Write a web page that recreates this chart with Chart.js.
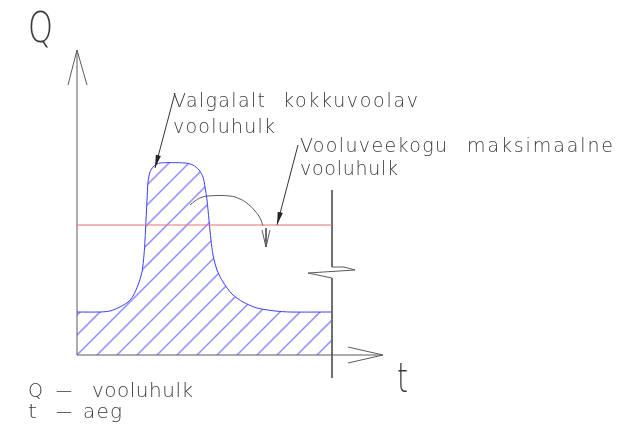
<!DOCTYPE html>
<html><head><meta charset="utf-8">
<script src="https://cdn.jsdelivr.net/npm/chart.js@4/dist/chart.umd.min.js"></script>
<style>html,body{margin:0;padding:0;background:#fff;}canvas{display:block;}</style>
</head><body>
<canvas id="c" width="631" height="431"></canvas>
<script>
// Hydrograph (schematic): time t, discharge Q
const tCurve = [0,23,33,43,51,56,61,65,67,68,69,70,71,73,77,83,108,116,122,126,128,130,132,134,136,140,146,155,166,180,198,213,254];
const qCurve = [43,43,44,48,53,59,70,83,100,115,135,155,173,183,189,192,192,190,185,178,168,155,135,115,100,85,73,61,53,47,44,43,43];
const qMax = 130;            // Vooluveekogu maksimaalne vooluhulk
const tEnd = 255;            // end of period (break line)
const breakT = [255,255,267,278,231,255,255];
const breakQ = [165,88,88,85,82,77,-23];
const yAxisT = [0,0], yAxisQ = [0,305];
const yHeadT = [-9,0,10], yHeadQ = [270,305,270];
const xAxisT = [0,306], xAxisQ = [0,0];
const xHeadT = [271,306,271], xHeadQ = [8,0,-8];
const arcT = [113,118,123,131,153,163,171,178,183,186];
const arcQ = [150,154,157,159,159,156,151,144,137,129];
const arcHeadT = [185,189,193], arcHeadQ = [125,108,125];
const arcMidT = [189,189], arcMidQ = [127,108];
const leader1T = [98,78], leader1Q = [262,187];
const leader2T = [221,200], leader2Q = [210,130];
// labels: text, t, Q (baseline-left), target width px, font size
const labelText = ["Q","Valgalalt","kokkuvoolav","vooluhulk","Vooluveekogu","maksimaalne","vooluhulk","t","Q","–","vooluhulk","t","–","aeg"];
const labelT =    [-49, 96, 206, 96, 223, 390, 223, 320, -49, -22, 15, -49, -22, 6];
const labelQ =    [313, 248, 248, 222, 203, 203, 180, -37, -42, -42, -42, -63, -63, -63];
const labelW =    [25, 92, 135, 102, 147, 146, 98, 11, 15, 18, 101, 9, 18, 39];
const labelSize = [42, 19, 19, 19, 19, 19, 19, 40, 20, 20, 20, 20, 20, 20];

const pts = (ts, qs) => ts.map((t, i) => ({x: t, y: qs[i]}));

const GRAY = '#5a5a5a';
const HATCH = 'rgba(70,70,255,0.55)';
const HATCH_STEP = 20;
const line = (data, color, extra) => Object.assign({
  data, borderColor: color, borderWidth: 1, showLine: true, pointRadius: 0, fill: false, tension: 0
}, extra || {});

const hatchPlugin = {
  id: 'hatch',
  beforeDatasetsDraw(chart) {
    const ctx = chart.ctx, ys = chart.scales.y;
    const meta = chart.getDatasetMeta(1);
    const el = meta.dataset, pp = meta.data;
    const y0 = ys.getPixelForValue(0);
    ctx.save();
    ctx.beginPath();
    el.path(ctx);
    ctx.lineTo(pp[pp.length - 1].x, y0);
    ctx.lineTo(pp[0].x, y0);
    ctx.closePath();
    ctx.clip();
    ctx.globalCompositeOperation = 'source-over';
    ctx.strokeStyle = HATCH;
    ctx.lineWidth = 1.6;
    ctx.beginPath();
    const W = chart.width, H = chart.height;
    for (let c = 12 - HATCH_STEP * 30; c < W + H; c += HATCH_STEP) {
      ctx.moveTo(c - H, H);
      ctx.lineTo(c, 0);
    }
    ctx.stroke();
    ctx.restore();
  }
};

const decor = {
  id: 'decor',
  afterDatasetsDraw(chart) {
    const ctx = chart.ctx, xs = chart.scales.x, ys = chart.scales.y;
    const P = (t, q) => [xs.getPixelForValue(t), ys.getPixelForValue(q)];
    [[leader1T, leader1Q], [leader2T, leader2Q]].forEach(([lt, lq]) => {
      const [x0, y0] = P(lt[0], lq[0]), [x1, y1] = P(lt[1], lq[1]);
      const dx = x0 - x1, dy = y0 - y1, L = Math.hypot(dx, dy);
      const ux = dx / L, uy = dy / L, len = 13, w = 2.6;
      ctx.save();
      ctx.fillStyle = '#222';
      ctx.beginPath();
      ctx.moveTo(x1, y1);
      ctx.lineTo(x1 + ux * len - uy * w, y1 + uy * len + ux * w);
      ctx.lineTo(x1 + ux * len + uy * w, y1 + uy * len - ux * w);
      ctx.closePath(); ctx.fill();
      ctx.restore();
    });
    ctx.save();
    ctx.fillStyle = '#3a3a3a';
    ctx.textBaseline = 'alphabetic';
    ctx.textAlign = 'left';
    labelText.forEach((s, i) => {
      ctx.font = `200 ${labelSize[i]}px "DejaVu Sans ExtraLight", "DejaVu Sans", sans-serif`;
      ctx.letterSpacing = '0px';
      const m = ctx.measureText(s).width;
      const n = [...s].length;
      const ls = n > 1 ? (labelW[i] - m) / (n - 1) : 0;
      ctx.letterSpacing = ls.toFixed(2) + 'px';
      const [x, y] = P(labelT[i], labelQ[i]);
      if (n === 1) {
        ctx.save(); ctx.translate(x, y); ctx.scale(labelW[i] / m, 1); ctx.fillText(s, 0, 0); ctx.restore();
      } else {
        ctx.fillText(s, x, y);
      }
    });
    ctx.restore();
  }
};

new Chart(document.getElementById('c'), {
  type: 'scatter',
  data: {
    datasets: [
      line(pts([0, tEnd], [qMax, qMax]), 'rgb(235,110,110)'),
      line(pts(tCurve, qCurve), 'rgb(60,60,255)', {tension: 0.25}),
      line(pts(yAxisT, yAxisQ), GRAY),
      line(pts(yHeadT, yHeadQ), GRAY),
      line(pts(xAxisT, xAxisQ), GRAY),
      line(pts(xHeadT, xHeadQ), GRAY),
      line(pts(breakT, breakQ), GRAY),
      line(pts(arcT, arcQ), GRAY, {tension: 0.4}),
      line(pts(arcHeadT, arcHeadQ), GRAY),
      line(pts(arcMidT, arcMidQ), GRAY),
      line(pts(leader1T, leader1Q), '#333'),
      line(pts(leader2T, leader2Q), '#333')
    ]
  },
  options: {
    responsive: false,
    animation: false,
    devicePixelRatio: 1,
    layout: {padding: 0},
    plugins: {legend: {display: false}, tooltip: {enabled: false}},
    scales: {
      x: {type: 'linear', min: -77, max: 554, display: false},
      y: {type: 'linear', min: -76, max: 355, display: false}
    }
  },
  plugins: [hatchPlugin, decor]
});
</script>
</body></html>
